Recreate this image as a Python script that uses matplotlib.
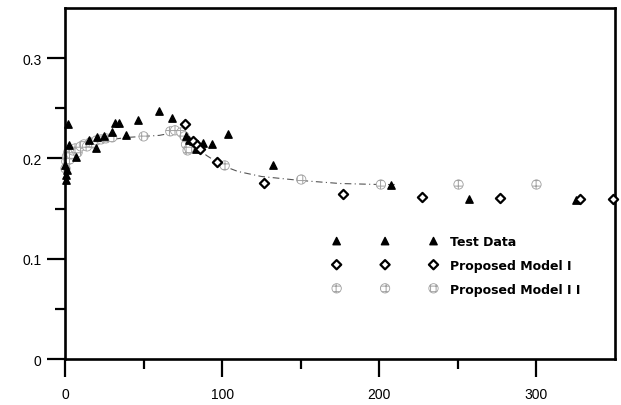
import matplotlib
matplotlib.use('Agg')
import matplotlib.pyplot as plt

# values
test_x = [0.3, 0.5, 0.8, 1.0, 2.1, 2.3, 7, 15.4, 19.5, 20.5, 24.8, 29.8, 31.5, 34.5, 39,
          46.3, 59.9, 68.1, 77, 79, 81.5, 83.6, 87.8, 93.8, 103.9, 132.3, 207.4, 257, 325]
test_y = [0.193, 0.178, 0.183, 0.188, 0.234, 0.213, 0.201, 0.218, 0.210, 0.221, 0.222, 0.226,
          0.235, 0.235, 0.223, 0.238, 0.247, 0.240, 0.222, 0.218, 0.217, 0.209, 0.215, 0.214,
          0.224, 0.193, 0.174, 0.160, 0.159]

model1_x = [76.6, 81.5, 84, 86, 97, 126.5, 176.7, 227, 277, 327.4, 348.6]
model1_y = [0.234, 0.217, 0.213, 0.209, 0.196, 0.176, 0.165, 0.162, 0.161, 0.160, 0.160]

model2_x = [0.3, 0.8, 1.2, 2, 3, 4, 5, 6.5, 8, 10, 12, 14, 16, 18, 20, 23, 26, 30, 50,
            67, 70, 74, 76, 77, 78, 79, 101.6, 150.3, 201, 250.4, 300]
model2_y = [0.190, 0.197, 0.202, 0.206, 0.199, 0.204, 0.208, 0.210, 0.206, 0.212, 0.214,
            0.212, 0.216, 0.215, 0.218, 0.219, 0.220, 0.221, 0.222, 0.227, 0.228, 0.226,
            0.222, 0.214, 0.208, 0.210, 0.193, 0.179, 0.174, 0.174, 0.174]

# dashed curve of model II
curve_x = [0, 5, 10, 20, 30, 40, 50, 60, 70, 76, 80, 85, 90, 100, 110, 125, 150, 175, 200, 210]
curve_y = [0.193, 0.203, 0.208, 0.215, 0.219, 0.221, 0.222, 0.223, 0.226, 0.226, 0.218,
           0.210, 0.203, 0.193, 0.187, 0.182, 0.178, 0.175, 0.174, 0.174]

x_ticks = [0, 100, 200, 300]
y_ticks = [0, 0.1, 0.2, 0.3]
y_labels = ['0', '0.1', '0.2', '0.3']

plt.rcParams['font.family'] = ['Liberation Sans', 'DejaVu Sans']
plt.rcParams['hatch.color'] = '#9a9a9a'
plt.rcParams['hatch.linewidth'] = 0.7

fig = plt.figure(figsize=(6.21, 4.06), dpi=100)
ax = fig.add_axes([0.1047, 0.1133, 0.8857, 0.8645])

ax.plot(curve_x, curve_y, color='#555555', lw=0.8, linestyle=(0, (6, 3, 1, 3)), zorder=1)

ax.scatter(model2_x, model2_y, marker='o', s=45, facecolors='white', edgecolors='#a0a0a0',
           hatch='+++', linewidths=0.6, label='Proposed Model I I', zorder=2, clip_on=False)
ax.scatter(test_x, test_y, marker='^', s=28, color='black', label='Test Data',
           zorder=3, clip_on=False)
ax.scatter(model1_x, model1_y, marker='D', s=22, facecolors='white', edgecolors='black',
           linewidths=1.6, label='Proposed Model I', zorder=4, clip_on=False)

ax.set_xlim(0, 350)
ax.set_ylim(0, 0.35)
ax.set_xticks(x_ticks)
ax.set_xticks([50, 150, 250], minor=True)
ax.set_yticks(y_ticks)
ax.set_yticklabels(y_labels)
ax.set_yticks([0.05, 0.15, 0.25], minor=True)

ax.tick_params(which='major', direction='out', length=13, width=1.6, labelsize=10)
ax.tick_params(which='minor', direction='out', length=7, width=1.6)
ax.tick_params(axis='x', which='major', pad=7)
ax.tick_params(axis='y', which='major', pad=4)
for s in ax.spines.values():
    s.set_linewidth(1.9)

handles, labels = ax.get_legend_handles_labels()
order = [1, 2, 0]
leg = ax.legend([handles[i] for i in order], [labels[i] for i in order],
                loc='upper left', bbox_to_anchor=(0.487, 0.352), frameon=False,
                scatterpoints=3, scatteryoffsets=[0.5], handlelength=8.35,
                handletextpad=1.0, labelspacing=0.85, borderpad=0, borderaxespad=0,
                prop={'family': 'DejaVu Sans', 'weight': 'bold', 'size': 9})

fig.savefig('out.png', dpi=100)
